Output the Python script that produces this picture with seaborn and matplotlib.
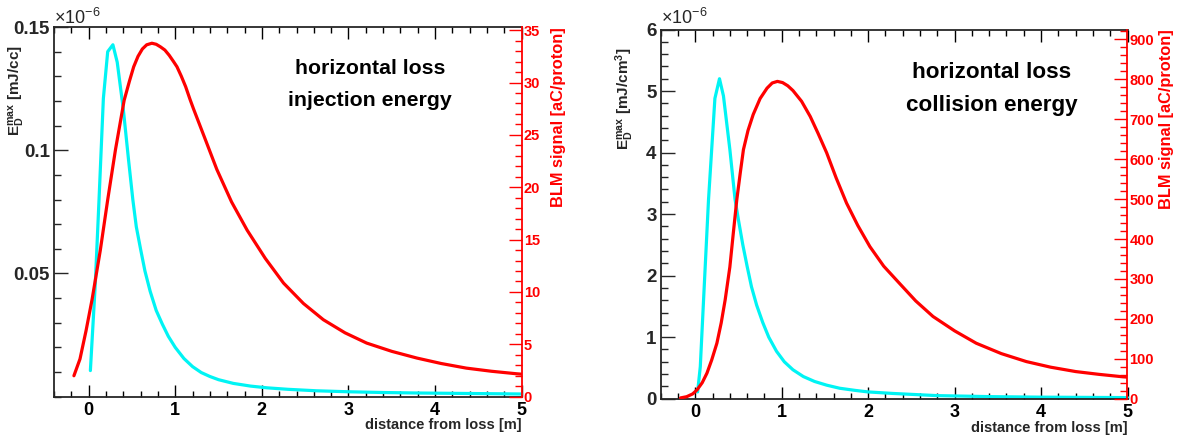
import numpy as np
import pandas as pd
import matplotlib
matplotlib.use("Agg")
import matplotlib.pyplot as plt
from matplotlib.ticker import MultipleLocator, FixedLocator
import seaborn as sns

# ---------------- data ----------------
# injection energy: energy deposition (x1e-6 mJ/cc) and BLM signal (aC/proton)
inj_ed_x = [0.02, 0.077, 0.12, 0.17, 0.22, 0.28, 0.33, 0.40, 0.46, 0.51, 0.55,
            0.60, 0.65, 0.71, 0.78, 0.85, 0.92, 1.00, 1.10, 1.20, 1.30, 1.40,
            1.50, 1.67, 1.87, 2.06, 2.30, 2.63, 3.00, 3.40, 3.79, 4.40, 5.00]
inj_ed_y = [0.0106, 0.046, 0.080, 0.121, 0.140, 0.1428, 0.1357, 0.1167, 0.0963,
            0.080, 0.069, 0.0598, 0.051, 0.0428, 0.035, 0.0295, 0.0245, 0.020,
            0.0155, 0.0122, 0.0098, 0.0082, 0.0069, 0.0054, 0.0043, 0.0036,
            0.0030, 0.0024, 0.0020, 0.0017, 0.0015, 0.0013, 0.0011]
inj_blm_x = [-0.17, -0.10, -0.03, 0.04, 0.135, 0.22, 0.31, 0.41, 0.47, 0.52, 0.57,
             0.62, 0.67, 0.73, 0.78, 0.83, 0.88, 0.93, 0.98, 1.02, 1.07, 1.12,
             1.17, 1.21, 1.28, 1.35, 1.48, 1.65, 1.83, 2.04, 2.25, 2.48, 2.71,
             2.96, 3.21, 3.50, 3.79, 4.07, 4.36, 4.65, 4.94, 5.00]
inj_blm_y = [2.0, 3.6, 6.3, 9.3, 14.0, 18.8, 23.6, 28.3, 30.1, 31.5, 32.5,
             33.2, 33.6, 33.75, 33.65, 33.4, 33.1, 32.6, 32.0, 31.5, 30.6, 29.6,
             28.4, 27.5, 26.0, 24.5, 21.7, 18.6, 15.9, 13.2, 10.85, 8.9, 7.35,
             6.1, 5.12, 4.33, 3.69, 3.17, 2.73, 2.43, 2.19, 2.15]

# collision energy: energy deposition (x1e-6 mJ/cm^3) and BLM signal (aC/proton)
col_ed_x = [0.027, 0.058, 0.096, 0.153, 0.227, 0.28, 0.326, 0.40, 0.46, 0.50,
            0.55, 0.60, 0.65, 0.71, 0.78, 0.85, 0.94, 1.03, 1.13, 1.25, 1.38,
            1.52, 1.67, 1.85, 2.00, 2.29, 2.80, 3.44, 4.00, 5.00]
col_ed_y = [0.11, 0.52, 1.61, 3.23, 4.88, 5.20, 4.92, 4.05, 3.24, 2.90,
            2.50, 2.15, 1.82, 1.52, 1.24, 1.00, 0.77, 0.60, 0.47, 0.36, 0.28,
            0.22, 0.17, 0.135, 0.11, 0.085, 0.05, 0.033, 0.025, 0.018]
col_blm_x = [-0.17, -0.10, -0.03, 0.02, 0.08, 0.135, 0.19, 0.25, 0.30, 0.346,
             0.40, 0.44, 0.48, 0.52, 0.557, 0.61, 0.67, 0.75, 0.83, 0.89, 0.95,
             1.01, 1.07, 1.13, 1.23, 1.33, 1.42, 1.52, 1.63, 1.75, 1.88, 2.02,
             2.18, 2.36, 2.55, 2.75, 3.00, 3.25, 3.54, 3.83, 4.11, 4.40, 4.67,
             4.94, 5.00]
col_blm_y = [2, 5, 12, 22, 40, 64, 97, 139, 190, 248,
             330, 415, 498, 565, 624, 672, 712, 752, 778, 791, 795,
             792, 784, 772, 745, 707, 665, 616, 553, 490, 434, 381,
             332, 289.5, 245, 206, 170, 139, 113, 93, 79, 68, 61,
             55, 54]

panel_titles = [["horizontal loss", "injection energy"],
                ["horizontal loss", "collision energy"]]
ed_labels = [r"E$_{\mathbf{D}}^{\mathbf{max}}$ [mJ/cc]",
             r"E$_{\mathbf{D}}^{\mathbf{max}}$ [mJ/cm$^{\mathbf{3}}$]"]
blm_label = "BLM signal [aC/proton]"
x_label = "distance from loss [m]"

# ---------------- style ----------------
sns.set_style("ticks")
plt.rcParams["font.family"] = ["Liberation Sans", "DejaVu Sans"]
plt.rcParams["mathtext.fontset"] = "custom"
plt.rcParams["mathtext.rm"] = "Liberation Sans"
plt.rcParams["mathtext.bf"] = "Liberation Sans:bold"
plt.rcParams["mathtext.it"] = "Liberation Sans:italic"
plt.rcParams["axes.linewidth"] = 1.3

RED = "#ff0000"
CYAN = "#00f4f4"
W, H = 1188, 443

fig = plt.figure(figsize=(W / 100, H / 100), dpi=100)


def fx(px):
    return px / W


def fy(py):
    return 1 - py / H


panels = [
    dict(box=(54, 27, 521.7, 396.7), ed=(inj_ed_x, inj_ed_y), blm=(inj_blm_x, inj_blm_y),
         ylim=(0, 0.15), yticks=[0.05, 0.1, 0.15], ylabels=["0.05", "0.1", "0.15"],
         yminor=0.01, blim=(0, 35.3), bmajor=5, bminor=1,
         title_fs=15.3, title_cx=370, title_y=(68, 100),
         edlab_x=17, blmlab_x=558, xlab_y=425),
    dict(box=(660.7, 29.5, 1127.5, 398.7), ed=(col_ed_x, col_ed_y), blm=(col_blm_x, col_blm_y),
         ylim=(0, 6), yticks=[0, 1, 2, 3, 4, 5, 6], ylabels=[str(v) for v in range(7)],
         yminor=0.2, blim=(0, 925), bmajor=100, bminor=20,
         title_fs=16.2, title_cx=992, title_y=(72, 106),
         edlab_x=625, blmlab_x=1166, xlab_y=428),
]

for i, p in enumerate(panels):
    x0, y0, x1, y1 = p["box"]
    ax = fig.add_axes([fx(x0), fy(y1), (x1 - x0) / W, (y1 - y0) / H])
    ax2 = ax.twinx()

    ed = pd.DataFrame({"x": p["ed"][0], "y": p["ed"][1]})
    blm = pd.DataFrame({"x": p["blm"][0], "y": p["blm"][1]})
    sns.lineplot(data=ed, x="x", y="y", ax=ax, color=CYAN, lw=2.3,
                 estimator=None, sort=False, clip_on=False)
    sns.lineplot(data=blm, x="x", y="y", ax=ax2, color=RED, lw=2.3,
                 estimator=None, sort=False)

    ax.set_xlim(-0.4, 5)
    ax.set_ylim(*p["ylim"])
    ax2.set_ylim(*p["blim"])
    ax.set_xlabel("")
    ax.set_ylabel("")
    ax2.set_ylabel("")

    # main (black) axes
    ax.xaxis.set_major_locator(FixedLocator([0, 1, 2, 3, 4, 5]))
    ax.xaxis.set_minor_locator(MultipleLocator(0.2))
    ax.set_xticklabels([str(v) for v in range(6)])
    ax.yaxis.set_major_locator(FixedLocator(p["yticks"]))
    ax.set_yticklabels(p["ylabels"])
    ax.yaxis.set_minor_locator(MultipleLocator(p["yminor"]))
    ax.tick_params(axis="x", which="both", direction="in", top=True, bottom=True,
                   labelsize=13, pad=4, width=1.0, colors="black")
    ax.tick_params(axis="x", which="major", length=8.6)
    ax.tick_params(axis="x", which="minor", length=4.3)
    ax.tick_params(axis="y", which="both", direction="in", left=True, right=False,
                   labelsize=13.5, pad=3, width=1.0)
    ax.tick_params(axis="y", which="major", length=10)
    ax.tick_params(axis="y", which="minor", length=5)
    for lab in ax.get_xticklabels() + ax.get_yticklabels():
        lab.set_fontweight("bold")

    # secondary (red) axis for BLM signal
    ax2.yaxis.set_major_locator(MultipleLocator(p["bmajor"]))
    ax2.yaxis.set_minor_locator(MultipleLocator(p["bminor"]))
    ax2.tick_params(axis="y", which="both", direction="in", colors=RED,
                    labelsize=10.5, pad=1.5, width=1.0)
    ax2.tick_params(axis="y", which="major", length=9.5)
    ax2.tick_params(axis="y", which="minor", length=4.8)
    for lab in ax2.get_yticklabels():
        lab.set_fontweight("bold")
    ax2.spines["right"].set_color(RED)
    ax.spines["right"].set_visible(False)
    for s in ["left", "top", "bottom"]:
        ax2.spines[s].set_visible(False)

    # panel annotation
    for k, line in enumerate(panel_titles[i]):
        fig.text(fx(p["title_cx"]), fy(p["title_y"][k]), line, ha="center", va="center",
                 fontsize=p["title_fs"], fontweight="bold", color="black")

    # axis titles
    fig.text(fx(p["edlab_x"]), fy(y0 + 18), ed_labels[i], rotation=90, ha="center",
             va="top", fontsize=11, fontweight="bold")
    fig.text(fx(p["blmlab_x"]), fy(y0), blm_label, rotation=90, ha="center",
             va="top", fontsize=11.8, fontweight="bold", color=RED)
    fig.text(fx(x1), fy(p["xlab_y"]), x_label, ha="right", va="center",
             fontsize=10.5, fontweight="bold")
    fig.text(fx(x0), fy(24), r"$\times$10$^{-6}$", ha="left", va="baseline",
             fontsize=13)

fig.savefig("out.png", dpi=100)
